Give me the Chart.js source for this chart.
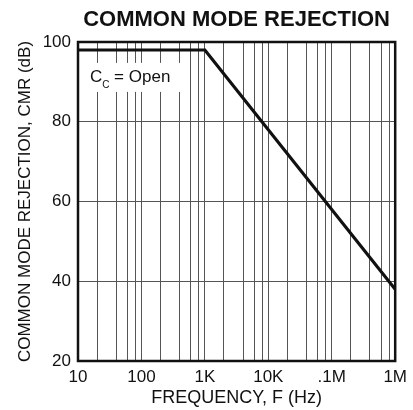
<!DOCTYPE html>
<html>
<head>
<meta charset="utf-8">
<script src="https://cdn.jsdelivr.net/npm/chart.js@4"></script>
<style>
  html, body { margin: 0; padding: 0; background: #fff; }
</style>
</head>
<body>
<canvas id="grafico" width="413" height="410"></canvas>
<script>
// curva CMR
const frecuencias = [10, 1000, 1000000]
const cmr = [98, 98, 38]

// lineas verticales de la rejilla y etiquetas de las decadas
const rejillaX = [10, 20, 40, 60, 80, 100, 200, 400, 600, 800, 1000, 2000, 4000, 6000, 8000,
    10000, 20000, 40000, 60000, 80000, 100000, 200000, 400000, 600000, 800000, 1000000]
const decadas = [10, 100, 1000, 10000, 100000, 1000000]
const etiquetasX = ['10', '100', '1K', '10K', '.1M', '1M']
const ticksY = [20, 40, 60, 80, 100]

const fuente = 'Liberation Sans, Arial, Helvetica, sans-serif'

const marco = {
    id: 'marco',
    afterDatasetsDraw(chart) {
        const { ctx, chartArea: a, scales } = chart
        ctx.save()
        ctx.strokeStyle = '#111'
        ctx.lineWidth = 2.5
        ctx.strokeRect(a.left, a.top, a.right - a.left, a.bottom - a.top)

        // etiqueta Cc = Open
        const x = scales.x.getPixelForValue(15.4)
        const y = scales.y.getPixelForValue(91.5)
        ctx.fillStyle = '#fff'
        ctx.fillRect(x - 5, y - 13, 97, 29)
        ctx.fillStyle = '#111'
        ctx.font = '17px ' + fuente
        ctx.textBaseline = 'alphabetic'
        ctx.fillText('C', x, y + 6)
        let w = ctx.measureText('C').width
        ctx.font = '10px ' + fuente
        ctx.fillText('C', x + w, y + 12)
        w += ctx.measureText('C').width
        ctx.font = '17px ' + fuente
        ctx.fillText(' = Open', x + w, y + 6)
        ctx.restore()
    }
}

new Chart(document.getElementById('grafico'), {
    type: 'line',
    data: {
        datasets: [{
            data: frecuencias.map((f, i) => ({ x: f, y: cmr[i] })),
            borderColor: '#111',
            borderWidth: 3.2,
            pointRadius: 0,
            tension: 0,
            fill: false
        }]
    },
    options: {
        responsive: false,
        animation: false,
        layout: { padding: { left: 0, right: 16, top: 0, bottom: 0 } },
        plugins: {
            legend: { display: false },
            tooltip: { enabled: false },
            title: {
                display: true,
                text: 'COMMON MODE REJECTION',
                color: '#111',
                fullSize: false,
                font: { family: fuente, size: 22, weight: 'bold' },
                padding: { top: 7, bottom: 8.6 }
            }
        },
        scales: {
            x: {
                type: 'logarithmic',
                min: 10,
                max: 1000000,
                afterBuildTicks: (s) => { s.ticks = rejillaX.map(v => ({ value: v })) },
                afterFit: (s) => { s.height = 49 },
                ticks: {
                    autoSkip: false,
                    maxRotation: 0,
                    color: '#111',
                    padding: 6,
                    font: { family: fuente, size: 17 },
                    callback: (v) => {
                        const i = decadas.indexOf(v)
                        return i >= 0 ? etiquetasX[i] : ''
                    }
                },
                grid: { color: '#555', lineWidth: 1, drawTicks: false },
                border: { display: false },
                title: {
                    display: true,
                    text: 'FREQUENCY, F (Hz)',
                    color: '#111',
                    font: { family: fuente, size: 18 },
                    padding: { top: 0, bottom: 1 }
                }
            },
            y: {
                min: 20,
                max: 100,
                afterBuildTicks: (s) => { s.ticks = ticksY.map(v => ({ value: v })) },
                afterFit: (s) => { s.width = 78 },
                ticks: {
                    color: '#111',
                    padding: 7,
                    font: { family: fuente, size: 17 }
                },
                grid: { color: '#555', lineWidth: 1, drawTicks: false },
                border: { display: false },
                title: {
                    display: true,
                    text: 'COMMON MODE REJECTION, CMR (dB)',
                    color: '#111',
                    font: { family: fuente, size: 17 },
                    padding: { top: 15, bottom: 0 }
                }
            }
        }
    },
    plugins: [marco]
});
</script>
</body>
</html>
